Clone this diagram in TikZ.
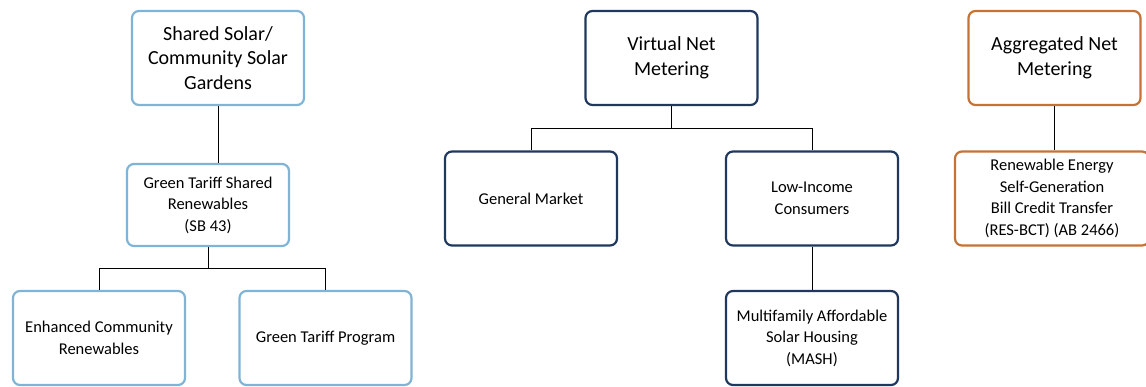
\documentclass[tikz,border=0pt]{standalone}
\usepackage{fontspec}
\setmainfont{Carlito}
\usetikzlibrary{positioning}

\definecolor{paleblue}{RGB}{128,180,214}
\definecolor{darknavy}{RGB}{32,56,94}
\definecolor{rust}{RGB}{197,114,52}

\begin{document}
\begin{tikzpicture}[x = 1pt, y = -1pt,
  box/.style = {draw, line width = 2.2pt, rounded corners = 7pt, align = center,
    inner sep = 0pt, minimum width = 172pt, minimum height = 94pt},
  bigtext/.style = {font = \fontsize{20}{24.5}\selectfont},
  smalltext/.style = {font = \fontsize{16.5}{21.5}\selectfont},
  link/.style = {line width = 1pt}]
  \useasboundingbox (0, 0) rectangle (1146, 387);

  % community solar branch
  \node[box, bigtext, draw = paleblue] (shared) at (218, 58)
  {Shared Solar/\\Community Solar\\Gardens};
  \node[box, smalltext, draw = paleblue, minimum width = 162pt, minimum height = 82pt]
  (gtsr) at (208, 205) {Green Tariff Shared\\Renewables\\(SB 43)};
  \node[box, smalltext, draw = paleblue] (ecr) at (99, 338)
  {Enhanced Community\\Renewables};
  \node[box, smalltext, draw = paleblue] (gtp) at (325.5, 338) {Green Tariff Program};

  % virtual net metering branch
  \node[box, bigtext, draw = darknavy] (vnm) at (671.5, 58) {Virtual Net\\Metering};
  \node[box, smalltext, draw = darknavy] (gm) at (531, 198.5) {General Market};
  \node[box, smalltext, draw = darknavy] (lic) at (812, 198.5) {Low-Income\\Consumers};
  \node[box, smalltext, draw = darknavy] (mash) at (812, 338)
  {Multifamily Affordable\\Solar Housing\\(MASH)};

  % aggregated net metering branch
  \node[box, bigtext, draw = rust] (anm) at (1054.5, 58) {Aggregated Net\\Metering};
  \node[box, smalltext, draw = rust, minimum width = 194pt] (resbct) at (1052, 198.5)
  {Renewable Energy\\Self-Generation\\Bill Credit Transfer\\(RES-BCT) (AB 2466)};

  \draw[link] (shared.south) -- (shared.south |- gtsr.north);
  \draw[link] (gtsr.south) -- ++(0, 21) coordinate (gbus) -| (ecr.north);
  \draw[link] (gbus) -| (gtp.north);

  \draw[link] (vnm.south) -- ++(0, 22) coordinate (vbus) -| (gm.north);
  \draw[link] (vbus) -| (lic.north);
  \draw[link] (lic) -- (mash);

  \draw[link] (anm.south) -- (anm.south |- resbct.north);
\end{tikzpicture}
\end{document}
